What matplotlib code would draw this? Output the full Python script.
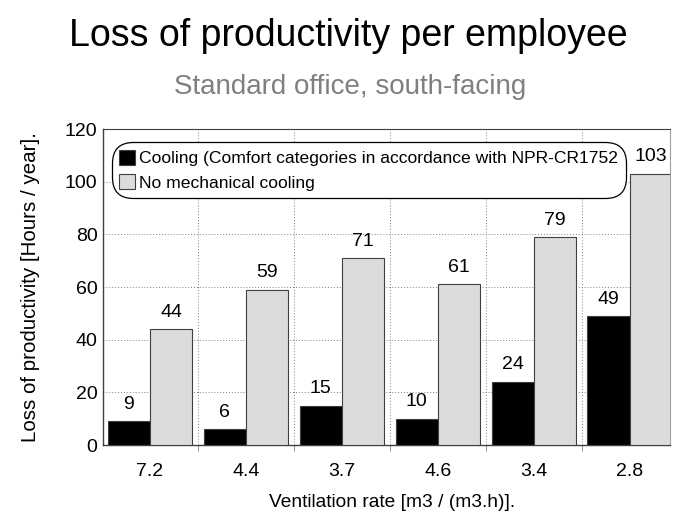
import matplotlib
matplotlib.use("Agg")
import matplotlib.pyplot as plt
import numpy as np

plt.rcParams['font.family'] = ['Liberation Sans', 'DejaVu Sans']

categories = ["7.2", "4.4", "3.7", "4.6", "3.4", "2.8"]
cooling = [9, 6, 15, 10, 24, 49]
no_cooling = [44, 59, 71, 61, 79, 103]
series_names = ["Cooling (Comfort categories in accordance with NPR-CR1752",
                "No mechanical cooling"]
yticks = [0, 20, 40, 60, 80, 100, 120]

fig = plt.figure(figsize=(6.77, 5.12), dpi=100)
ax = fig.add_axes([103/677, 1-445/512, (670-103)/677, (445-129)/512])

x = np.arange(len(categories))
w = 0.44
b1 = ax.bar(x - w/2, cooling, w, color="black", edgecolor="#404040", linewidth=0.8,
            label=series_names[0], zorder=3)
b2 = ax.bar(x + w/2, no_cooling, w, color="#DCDCDC", edgecolor="#404040", linewidth=0.8,
            label=series_names[1], zorder=3)

for rects, vals in ((b1, cooling), (b2, no_cooling)):
    for r, v in zip(rects, vals):
        ax.text(r.get_x() + r.get_width()/2, v + 3.2, str(v), ha="center", va="bottom",
                fontsize=14, zorder=4)

ax.set_xlim(-0.49, 5.42)
ax.set_ylim(0, 120)
ax.set_yticks(yticks)
ax.set_yticklabels([str(t) for t in yticks], fontsize=14)
ax.set_xticks(x)
ax.set_xticklabels(categories, fontsize=14)
ax.tick_params(axis="x", length=0, pad=13)
ax.tick_params(axis="y", length=0, pad=4)

ax.set_xticks(np.arange(0.5, len(categories) - 0.5, 1), minor=True)
ax.tick_params(axis="x", which="minor", length=4, color="#808080")
ax.grid(axis="y", linestyle=(0, (1, 2)), color="#808080", linewidth=0.7, zorder=0)
ax.grid(axis="x", which="minor", linestyle=(0, (1, 2)), color="#808080", linewidth=0.7, zorder=0)

for s in ("left", "bottom"):
    ax.spines[s].set_color("#404040")
    ax.spines[s].set_linewidth(1.0)
ax.spines["top"].set_color("#404040")
ax.spines["top"].set_linewidth(0.8)
ax.spines["right"].set_color("#A0A0A0")
ax.spines["right"].set_linewidth(0.8)

ax.set_ylabel("Loss of productivity [Hours / year].", fontsize=14.8, labelpad=18)
ax.set_xlabel("Ventilation rate [m3 / (m3.h)].", fontsize=13.8, labelpad=8)
ax.xaxis.set_label_coords((392 - 103) / (670 - 103), -0.155)

leg = ax.legend(loc="upper left", bbox_to_anchor=(0.015, 0.958), fontsize=12.6,
                frameon=True, fancybox=True, edgecolor="black", framealpha=1,
                handlelength=0.9, handleheight=0.9, handletextpad=0.2,
                borderpad=0.45, labelspacing=0.45, borderaxespad=0)
leg.get_frame().set_linewidth(0.9)
leg.get_frame().set_boxstyle("round", pad=0.0, rounding_size=1.2)
leg.set_zorder(5)

fig.text(348/677, 1 - 36/512, "Loss of productivity per employee", ha="center", va="center",
         fontsize=27)
fig.text(350/677, 1 - 87/512, "Standard office, south-facing", ha="center", va="center",
         fontsize=20, color="#808080")

fig.savefig("out.png", dpi=100)
